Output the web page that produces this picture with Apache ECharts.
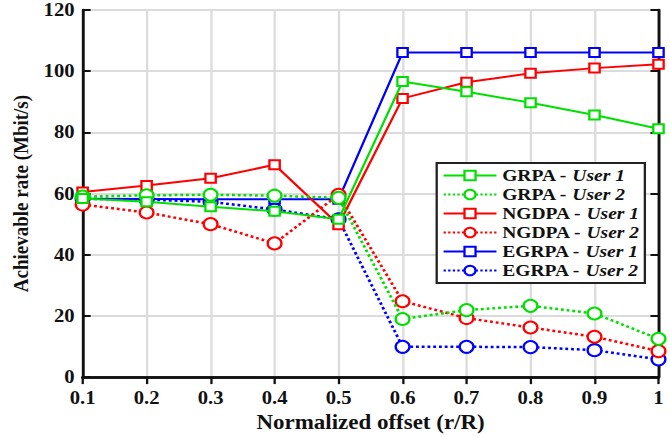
<!DOCTYPE html>
<html>
<head>
<meta charset="utf-8">
<script src="https://cdn.jsdelivr.net/npm/echarts@6/dist/echarts.min.js"></script>
<style>
html, body { margin: 0; padding: 0; background: #fff; overflow: hidden; }
/* the original figure is stretched a little horizontally, so draw narrower and widen */
#chart { width: 583px; height: 437px; transform: scaleX(1.1492); transform-origin: 0 0; }
</style>
</head>
<body>
<div id="chart"></div>
<script>
var offsets = ['0.1', '0.2', '0.3', '0.4', '0.5', '0.6', '0.7', '0.8', '0.9', '1'];
var yTicks = [0, 20, 40, 60, 80, 100, 120];

var grpaUser1 = [58.4, 57.3, 55.7, 54.2, 51.6, 96.6, 93.3, 89.7, 85.7, 81.2];
var grpaUser2 = [59.0, 59.4, 59.6, 59.3, 58.6, 19.0, 21.9, 23.3, 20.8, 12.5];
var ngdpaUser1 = [60.5, 62.6, 65.0, 69.4, 49.8, 91.1, 96.4, 99.3, 101.0, 102.3];
var ngdpaUser2 = [56.4, 53.8, 50.0, 43.7, 59.6, 24.8, 19.3, 16.2, 13.2, 8.5];
var egrpaUser1 = [58.3, 58.2, 58.1, 58.1, 58.1, 106.1, 106.1, 106.1, 106.1, 106.1];
var egrpaUser2 = [58.3, 58.0, 57.3, 54.8, 51.6, 9.9, 9.9, 9.8, 8.8, 5.8];

var seriesDefs = [
	{ name : 'GRPA|User 1', data : grpaUser1, color : '#00e000', dash : 'solid', symbol : 'emptyRect' },
	{ name : 'GRPA|User 2', data : grpaUser2, color : '#00e000', dash : 'dotted', symbol : 'emptyCircle' },
	{ name : 'NGDPA|User 1', data : ngdpaUser1, color : '#ff0000', dash : 'solid', symbol : 'emptyRect' },
	{ name : 'NGDPA|User 2', data : ngdpaUser2, color : '#ff0000', dash : 'dotted', symbol : 'emptyCircle' },
	{ name : 'EGRPA|User 1', data : egrpaUser1, color : '#0000ff', dash : 'solid', symbol : 'emptyRect' },
	{ name : 'EGRPA|User 2', data : egrpaUser2, color : '#0000ff', dash : 'dotted', symbol : 'emptyCircle' }
];

var font = '"Liberation Serif", "Times New Roman", serif';

var series = [];
for (var i in seriesDefs) {
	var d = seriesDefs[i];
	series.push({
		name : d.name,
		type : 'line',
		data : d.data,
		symbol : d.symbol,
		symbolSize : d.symbol == 'emptyRect' ? 9 : 12,
		showAllSymbol : true,
		itemStyle : { color : d.color, borderWidth : 2 },
		lineStyle : { color : d.color, width : d.dash == 'solid' ? 2 : 2.5, type : d.dash },
		z : 10 - i
	});
}

var chart = echarts.init(document.getElementById('chart'), null, { renderer : 'svg' });
chart.setOption({
	animation : false,
	grid : { left : 71, right : 10, top : 10, bottom : 54 },
	legend : {
		orient : 'vertical',
		left : 380,
		top : 163,
		itemWidth : 46,
		itemHeight : 12,
		itemGap : 2,
		padding : [4, 5, 4, 5],
		borderColor : '#222',
		borderWidth : 2,
		backgroundColor : '#fff',
		formatter : function(name) {
			var p = name.split('|');
			return '{b|' + p[0] + ' - }{i|' + p[1] + '}';
		},
		textStyle : {
			rich : {
				b : { fontFamily : font, fontWeight : 'bold', fontSize : 17, color : '#111' },
				i : { fontFamily : font, fontWeight : 'bold', fontStyle : 'italic', fontSize : 17, color : '#111' }
			}
		}
	},
	xAxis : [ {
		type : 'category',
		data : offsets,
		boundaryGap : false,
		name : 'Normalized offset (r/R)',
		nameLocation : 'middle',
		nameGap : 34,
		nameTextStyle : { fontFamily : font, fontWeight : 'bold', fontSize : 20, color : '#111' },
		axisLine : { lineStyle : { color : '#111', width : 2.5 } },
		axisTick : { show : false },
		axisLabel : { fontFamily : font, fontWeight : 'bold', fontSize : 18, color : '#111', margin : 12 },
		splitLine : { show : true, lineStyle : { color : '#dcdcdc', width : 2 } }
	}, {
		type : 'category',
		data : offsets,
		boundaryGap : false,
		position : 'top',
		axisLine : { lineStyle : { color : '#111', width : 2.5 } },
		axisTick : { inside : true, length : 7, lineStyle : { width : 2 } },
		axisLabel : { show : false }
	} ],
	yAxis : [ {
		type : 'value',
		min : yTicks[0],
		max : yTicks[yTicks.length - 1],
		interval : 20,
		name : 'Achievable rate (Mbit/s)',
		nameLocation : 'middle',
		nameGap : 44,
		nameTextStyle : { fontFamily : font, fontWeight : 'bold', fontSize : 19, color : '#111' },
		axisLine : { show : true, lineStyle : { color : '#111', width : 2.5 } },
		axisTick : { show : true, inside : true, length : 7, lineStyle : { width : 2 } },
		axisLabel : { fontFamily : font, fontWeight : 'bold', fontSize : 18, color : '#111', margin : 7 },
		splitLine : { show : true, lineStyle : { color : '#dcdcdc', width : 2 } }
	}, {
		type : 'value',
		min : yTicks[0],
		max : yTicks[yTicks.length - 1],
		interval : 20,
		position : 'right',
		axisLine : { show : true, lineStyle : { color : '#111', width : 2.5 } },
		axisTick : { show : true, inside : true, length : 7, lineStyle : { width : 2 } },
		axisLabel : { show : false },
		splitLine : { show : false }
	} ],
	series : series
});
</script>
</body>
</html>
